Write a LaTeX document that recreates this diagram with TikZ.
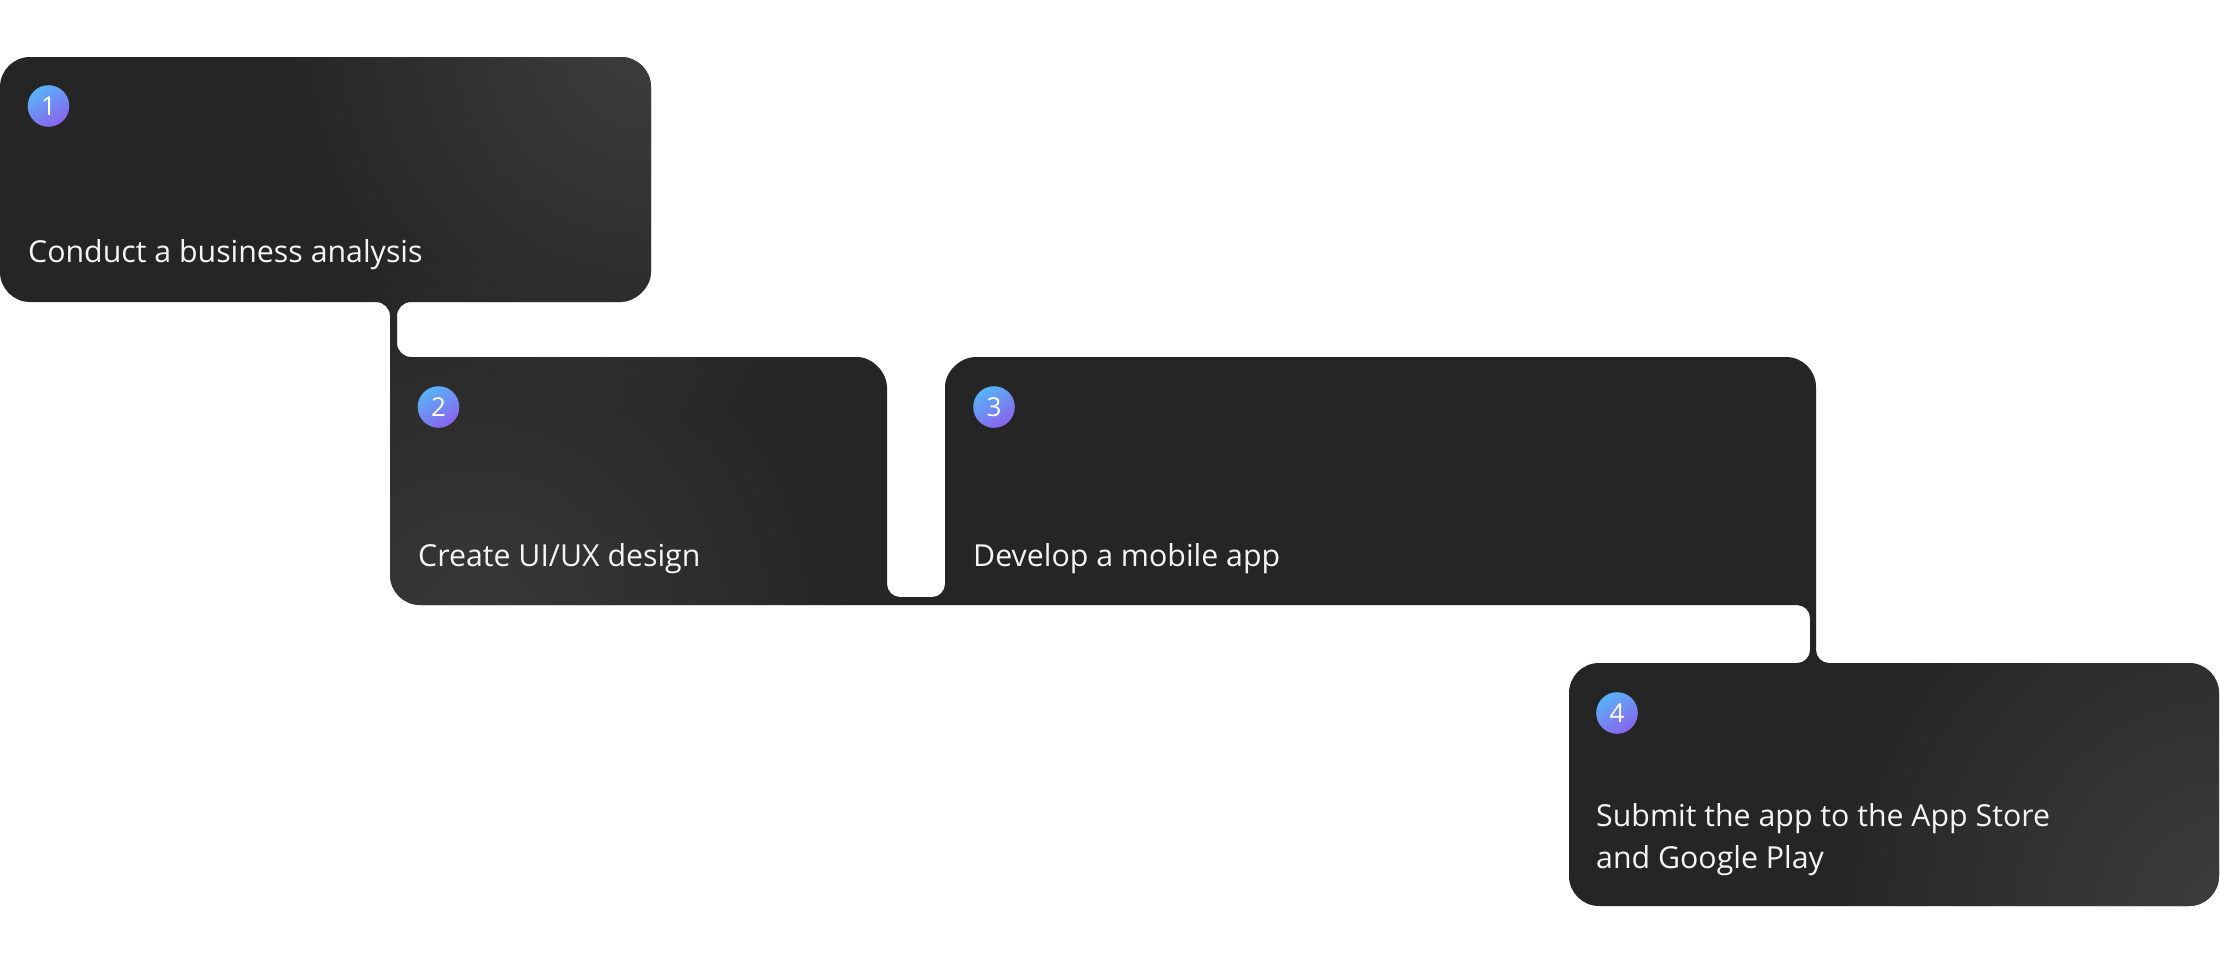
\documentclass[tikz,border=0pt]{standalone}
\usepackage{fontspec}
\usetikzlibrary{fadings}
\setmainfont{Open Sans}
\definecolor{base}{HTML}{252525}
\definecolor{hl}{HTML}{3E3E3E}
\definecolor{bblue}{HTML}{58B2F8}
\definecolor{bviolet}{HTML}{8A64EE}
\definecolor{txt}{HTML}{F4F4F4}
\tikzfading[name=myglow, inner color=transparent!0, outer color=transparent!100]
\tikzset{
  badge/.style={circle, minimum size=41.6pt, inner sep=0pt, top color=bblue, bottom color=bviolet, shading angle=30, text=white, font=\fontsize{26}{26}\selectfont},
  lbl/.style={anchor=base west, inner sep=0pt, text=txt, font=\fontsize{30.3}{42}\selectfont},
  glow/.style={fill=hl, path fading=myglow}
}
\begin{document}
\begin{tikzpicture}[x=1pt,y=-1pt]
\useasboundingbox (0,0) rectangle (2220,964);
\fill[white] (0,0) rectangle (2220,964);
\begin{scope}
\clip (0,87)
  .. controls (0,70.5) and (13.5,57) .. (30,57)
  -- (621,57) .. controls (637.5,57) and (651,70.5) .. (651,87)
  -- (651,272) .. controls (651,288.5) and (634.5,302) .. (621,302)
  -- (411,302) .. controls (403.3,302) and (397,308.3) .. (397,316)
  -- (397,343) .. controls (397,350.7) and (403.3,357) .. (411,357)
  -- (857,357) .. controls (873.5,357) and (887,373.5) .. (887,387)
  -- (887,584) .. controls (887,591.15) and (892.85,597) .. (900,597)
  -- (932,597) .. controls (939.15,597) and (945,591.15) .. (945,584)
  -- (945,387) .. controls (945,370.5) and (961.5,357) .. (975,357)
  -- (1786,357) .. controls (1802.5,357) and (1816,370.5) .. (1816,387)
  -- (1816,650) .. controls (1816,657.15) and (1821.85,663) .. (1829,663)
  -- (2189,663) .. controls (2205.5,663) and (2219,676.5) .. (2219,693)
  -- (2219,876) .. controls (2219,892.5) and (2205.5,906) .. (2189,906)
  -- (1599,906) .. controls (1582.5,906) and (1569,892.5) .. (1569,876)
  -- (1569,693) .. controls (1569,676.5) and (1582.5,663) .. (1599,663)
  -- (1797,663) .. controls (1804.15,663) and (1810,657.15) .. (1810,650)
  -- (1810,618) .. controls (1810,610.85) and (1804.15,605) .. (1797,605)
  -- (420,605) .. controls (403.5,605) and (390,591.5) .. (390,575)
  -- (390,316) .. controls (390,308.3) and (383.7,302) .. (376,302)
  -- (30,302) .. controls (13.5,302) and (0,288.5) .. (0,272)
  -- cycle;
\fill[base] (0,0) rectangle (2220,964);
\fill[glow] (650,40) circle[radius=380pt];
\fill[glow, opacity=0.8] (480,620) circle[radius=380pt];
\fill[glow] (2230,915) circle[radius=420pt];
\end{scope}
\node[badge] (b1) at (48.5,106) {1};
\node[badge] (b2) at (438.5,407) {2};
\node[badge] (b3) at (994,407) {3};
\node[badge] (b4) at (1617,713) {4};
\node[lbl] (t1) at (28,262) {Conduct a business analysis};
\node[lbl] (t2) at (418,566) {Create UI/UX design};
\node[lbl] (t3) at (973,566) {Develop a mobile app};
\node[lbl] (t4a) at (1596,826) {Submit the app to the App Store};
\node[lbl] (t4b) at (1596,868) {and Google Play};
\end{tikzpicture}
\end{document}
